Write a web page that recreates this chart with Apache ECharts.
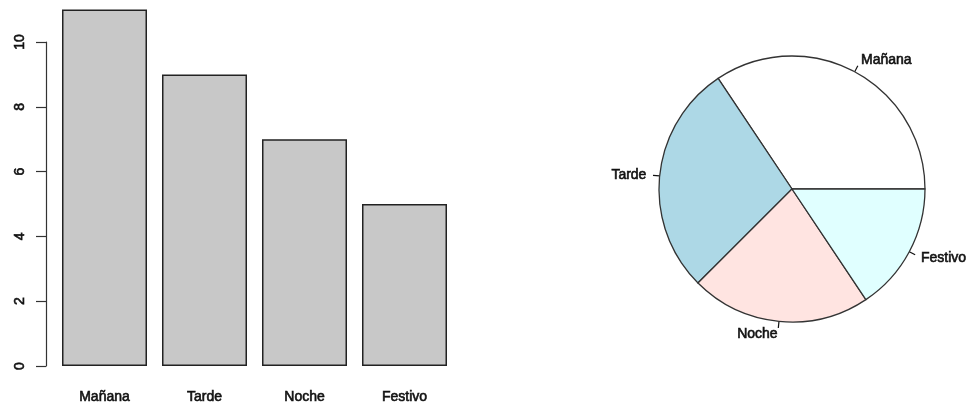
<!DOCTYPE html>
<html>
<head>
<meta charset="utf-8">
<script src="https://cdn.jsdelivr.net/npm/echarts@6/dist/echarts.min.js"></script>
<style>
  html, body { margin: 0; padding: 0; background: #fff; }
  #chart { width: 972px; height: 412px; }
</style>
</head>
<body>
<div id="chart"></div>
<script>
// Turnos: frecuencia por franja
const categories = ['Mañana', 'Tarde', 'Noche', 'Festivo'];
const counts = [11, 9, 7, 5];
const yTicks = [0, 2, 4, 6, 8, 10];
const pieColors = ['#ffffff', '#add8e6', '#ffe4e1', '#e0ffff'];

const FONT = 'Liberation Sans, Arial, Helvetica, sans-serif';
const PIE_R = 133;

// shared text look: regular face with a light outline for a slightly heavier stroke
const textLook = {
  color: '#111',
  fontSize: 14,
  fontWeight: 'normal',
  fontFamily: FONT,
  textBorderColor: '#111',
  textBorderWidth: 0.6
};

const chart = echarts.init(document.getElementById('chart'), null, { renderer: 'canvas' });

chart.setOption({
  animation: false,
  backgroundColor: '#ffffff',
  textStyle: { fontFamily: FONT },
  grid: { left: 54.5, top: 42, width: 400, bottom: 46, containLabel: false },
  xAxis: {
    type: 'category',
    data: categories,
    boundaryGap: true,
    axisLine: { show: false },
    axisTick: { show: false },
    axisLabel: Object.assign({ margin: 24 }, textLook)
  },
  yAxis: {
    type: 'value',
    min: yTicks[0],
    max: yTicks[yTicks.length - 1],
    interval: yTicks[1] - yTicks[0],
    offset: 8.5,
    splitLine: { show: false },
    axisLine: { show: true, lineStyle: { color: '#333', width: 1.2 } },
    axisTick: { show: true, length: 10, lineStyle: { color: '#333', width: 1.2 } },
    axisLabel: Object.assign({ rotate: 90, margin: 19 }, textLook)
  },
  series: [
    {
      type: 'bar',
      data: counts,
      barWidth: 85,
      clip: false,
      itemStyle: { color: '#c8c8c8', borderColor: '#222', borderWidth: 1.5 }
    },
    {
      type: 'pie',
      center: [792, 189],
      radius: PIE_R,
      startAngle: 0,
      clockwise: false,
      avoidLabelOverlap: false,
      data: categories.map((name, i) => ({
        name: name,
        value: counts[i],
        itemStyle: { color: pieColors[i] }
      })),
      itemStyle: { borderColor: '#333', borderWidth: 1.3 },
      label: Object.assign({
        show: true,
        position: 'outside',
        formatter: '{b}'
      }, textLook),
      labelLine: {
        show: true,
        length: 7,
        length2: 0,
        lineStyle: { color: '#111', width: 1.2 }
      },
      // text anchored at 1.1 x radius along the slice's mid direction
      labelLayout: function (params) {
        const pts = params.labelLinePoints;
        if (!pts) return {};
        const p0 = pts[0], p1 = pts[1];
        const dx = p1[0] - p0[0], dy = p1[1] - p0[1];
        const len = Math.sqrt(dx * dx + dy * dy) || 1;
        const ux = dx / len, uy = dy / len;
        const ax = p0[0] + ux * 0.1 * PIE_R;
        const ay = p0[1] + uy * 0.1 * PIE_R;
        const tick = [p0[0] + ux * 0.05 * PIE_R, p0[1] + uy * 0.05 * PIE_R];
        return {
          x: ax,
          y: ay,
          align: ux >= 0 ? 'left' : 'right',
          verticalAlign: 'middle',
          labelLinePoints: [p0, tick, tick]
        };
      }
    }
  ]
});
</script>
</body>
</html>
